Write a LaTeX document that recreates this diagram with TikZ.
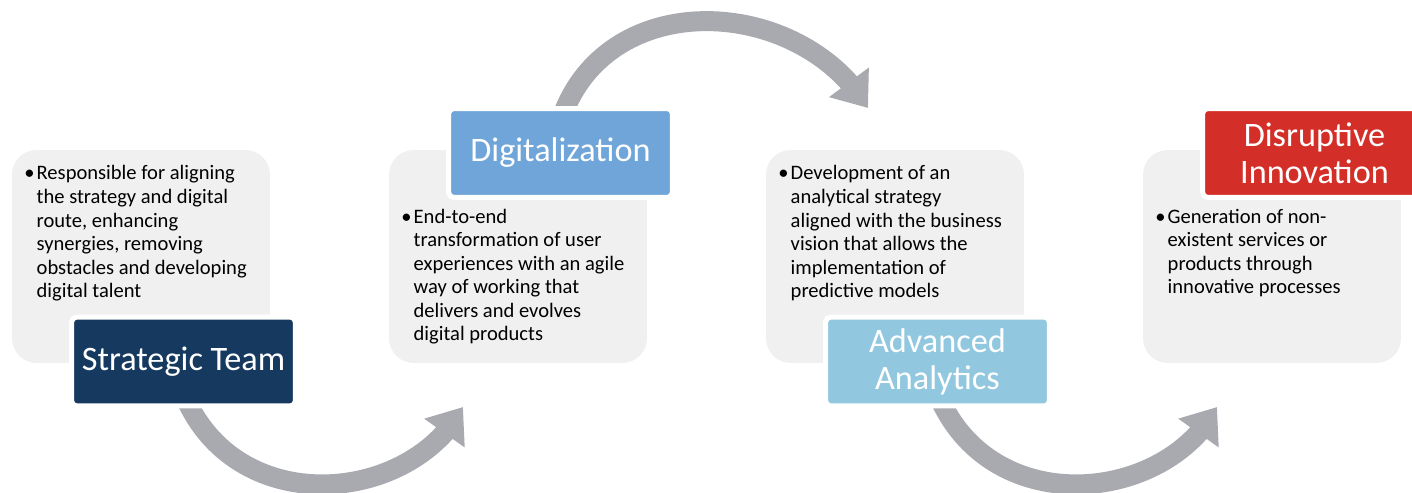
\documentclass[tikz,border=0pt]{standalone}
\usepackage{fontspec}
\setmainfont{Carlito}
\usetikzlibrary{arrows.meta,bending,backgrounds}
\definecolor{panelgray}{HTML}{F0F0F0}
\definecolor{teamblue}{HTML}{163A5F}
\definecolor{digiblue}{HTML}{6FA5D8}
\definecolor{anablue}{HTML}{92C8DF}
\definecolor{innored}{HTML}{D42E29}
\definecolor{arrowgray}{HTML}{A9AAAF}
\tikzset{
panel/.style={fill=panelgray,rounded corners=14pt,minimum width=5.16cm,minimum height=4.26cm,inner sep=0pt},
header/.style={draw=white,line width=2.85pt,rounded corners=3pt,minimum width=4.48cm,minimum height=1.78cm,
  text=white,align=center,font=\fontsize{19.5}{21}\selectfont,inner sep=0pt},
bullets/.style={anchor=base west,inner sep=0pt,font=\fontsize{11.7}{13.4}\selectfont},
bigarrow/.style={arrowgray,line width=0.4cm,-{Triangle[length=0.64cm,width=0.95cm]}}
}
\begin{document}
\begin{tikzpicture}[x=0.02cm,y=-0.02cm]
\useasboundingbox (0,0) rectangle (1412,493);
\node[panel] (T1) at (141,256.5) {};
\node[panel] (D1) at (518,256.5) {};
\node[panel] (A1) at (895,256.5) {};
\node[panel] (I1) at (1272,256.5) {};
\node[header,fill=teamblue] (T) at (183.5,361.5) {Strategic Team};
\node[header,fill=digiblue] (D) at (560.5,153) {Digitalization};
\node[header,fill=anablue] (A) at (937.5,361.5) {Advanced\\Analytics};
\node[header,fill=innored] (I) at (1314.5,153) {Disruptive\\Innovation};
\node[bullets] (t1) at (24,180) {\begin{tabular}[t]{@{}l@{\hspace{1.2pt}}l@{}}\textbullet&Responsible for aligning\\
&the strategy and digital\\&route, enhancing\\&synergies, removing\\&obstacles and developing\\&digital talent\end{tabular}};
\node[bullets] (t2) at (401,223) {\begin{tabular}[t]{@{}l@{\hspace{1.2pt}}l@{}}\textbullet&End-to-end\\
&transformation of user\\&experiences with an agile\\&way of working that\\&delivers and evolves\\&digital products\end{tabular}};
\node[bullets] (t3) at (778,180) {\begin{tabular}[t]{@{}l@{\hspace{1.2pt}}l@{}}\textbullet&Development of an\\
&analytical strategy\\&aligned with the business\\&vision that allows the\\&implementation of\\&predictive models\end{tabular}};
\node[bullets] (t4) at (1155,223) {\begin{tabular}[t]{@{}l@{\hspace{1.2pt}}l@{}}\textbullet&Generation of non-\\
&existent services or\\&products through\\&innovative processes\end{tabular}};
\coordinate (T2) at (463,407);
\coordinate (D2) at (868,108);
\coordinate (A2) at (1217,407);
\begin{scope}[on background layer]
\draw[bigarrow] ([shift={(0,-15)}]T.south) .. controls (235,520) and (410,505) .. (T2);
\draw[bigarrow] ([shift={(0,15)}]D.north) .. controls (605,-15) and (800,-5) .. (D2);
\draw[bigarrow] ([shift={(0,-15)}]A.south) .. controls (989,520) and (1164,505) .. (A2);
\end{scope}
\end{tikzpicture}
\end{document}
